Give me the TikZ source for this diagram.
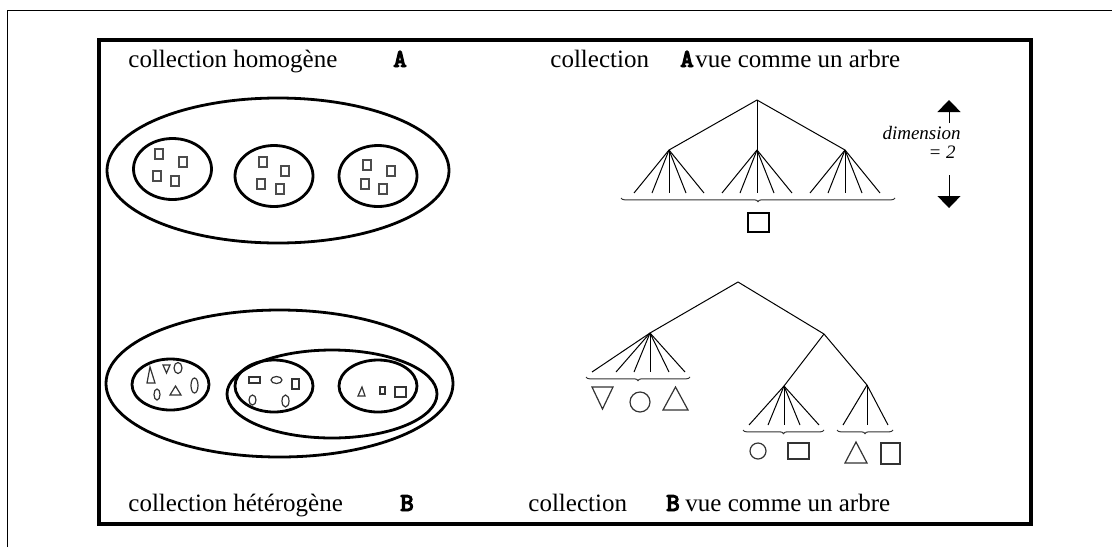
\documentclass[tikz,border=0pt]{standalone}
\usepackage{fontspec}
\setmainfont{Liberation Serif}
\newfontfamily\tagfont[FakeBold=3.5]{lmmonolt10-bold.otf}
\usetikzlibrary{shapes.geometric, arrows.meta, decorations.pathreplacing}

\begin{document}
\begin{tikzpicture}[x=0.5pt, y=-0.5pt]
		\tikzstyle{Bag} = [line width=1.4pt, draw=black]
		\tikzstyle{Elem} = [line width=0.55pt, draw=black!70]
		\tikzstyle{Shape} = [line width=0.6pt, draw=black!80]
		\tikzstyle{Edge} = [line width=0.5pt, draw=black]
		\tikzstyle{Brace} = [line width=0.5pt, draw=black!80, decorate, decoration={brace, mirror, amplitude=1.8pt}]
		\tikzstyle{Label} = [anchor=base west, inner sep=0pt, font=\fontsize{12.5}{14}\selectfont]
		\tikzstyle{Tag} = [anchor=base, inner sep=0pt, font=\tagfont\fontsize{13}{14}\selectfont]
		\tikzstyle{Dim} = [anchor=base east, inner sep=0pt, font=\itshape\fontsize{9.5}{10}\selectfont]
		\tikzstyle{arrow} = [line width=0.5pt, -{Triangle[width=11.5pt, length=6pt]}]
		
		%\draw[step=50,gray,very thin] (0,0) grid (1112,547);
		\useasboundingbox (0,0) rectangle (1112,547);
		
		\draw [line width=0.5pt, black] (7,547) -- (7,10) -- (1112,10);
		\draw [line width=2pt, black] (98.7,40) rectangle (1030.5,523.7);
		
		\node (homLabel) [Label] at (128,67) {collection homogène};
		\node (tagA) [Tag] at (400,67) {A};
		\node (treeLabelA) [Label] at (550,67) {collection};
		\node (treeTagA) [Tag] at (687,67) {A};
		\node (vueA) [Label] at (695,67) {vue comme un arbre};
		\node (hetLabel) [Label] at (128,511) {collection hétérogène};
		\node (tagB) [Tag] at (407,511) {B};
		\node (treeLabelB) [Label] at (528,511) {collection};
		\node (treeTagB) [Tag] at (673,511) {B};
		\node (vueB) [Label] at (685,511) {vue comme un arbre};
		
		% homogeneous bags
		\coordinate (bagA) at (278,170.5);
		\coordinate (bagA1) at (172.5,169);
		\coordinate (bagA2) at (274,176);
		\coordinate (bagA3) at (378,176);
		\draw [Bag] (bagA) ellipse [x radius=171, y radius=72.5];
		\foreach \k in {1,2,3}
			\draw [Bag] (bagA\k) ellipse [x radius=39, y radius=30.5];
		\foreach \dx/\dy in {-13.5/-15, 10.5/-7, -15.5/7, 2.5/12}
			\draw [Elem] (bagA1) ++(\dx-4,\dy-5) rectangle ++(8,10);
		\foreach \dx/\dy in {-11/-14, 11/-5, -13/8, 6/13}
			\draw [Elem] (bagA2) ++(\dx-4,\dy-5) rectangle ++(8,10);
		\foreach \dx/\dy in {-11/-11, 13/-5, -13/8, 5/13}
			\draw [Elem] (bagA3) ++(\dx-4,\dy-5) rectangle ++(8,10);
		
		% heterogeneous bags
		\coordinate (bagB) at (279.5,383.5);
		\coordinate (bagB1) at (170.5,384.5);
		\coordinate (bagB23) at (332,394);
		\coordinate (bagB2) at (274,386);
		\coordinate (bagB3) at (378,386);
		\draw [Bag] (bagB) ellipse [x radius=173.5, y radius=73.5];
		\draw [Bag] (bagB1) ellipse [x radius=38.5, y radius=25.5];
		\draw [Bag] (bagB23) ellipse [x radius=105, y radius=44];
		\draw [Bag] (bagB2) ellipse [x radius=39, y radius=26];
		\draw [Bag] (bagB3) ellipse [x radius=39, y radius=26];
		\draw [Shape] (147,383) -- (155,383) -- (150,367) -- cycle;
		\draw [Shape] (163,365) -- (170,365) -- (166.5,373) -- cycle;
		\draw [Shape] (178,368) ellipse [x radius=4, y radius=5.5];
		\draw [Shape] (157,394.5) ellipse [x radius=3, y radius=5.5];
		\draw [Shape] (170,395) -- (181,395) -- (175.5,386) -- cycle;
		\draw [Shape] (194.5,385.5) ellipse [x radius=3.5, y radius=7.5];
		\draw [Shape] (249,377) rectangle (260,383);
		\draw [Shape] (276.5,380) ellipse [x radius=5.5, y radius=3.5];
		\draw [Shape] (292,379) rectangle (299,389);
		\draw [Shape] (252.5,400) ellipse [x radius=3.5, y radius=5];
		\draw [Shape] (285.5,401) ellipse [x radius=3.5, y radius=6];
		\draw [Shape] (358,396) -- (365,396) -- (362,387) -- cycle;
		\draw [Shape] (380,387) rectangle (385,394);
		\draw [Shape] (395,387) rectangle (406,397);
		
		% tree of A
		\coordinate (rootA) at (757,100);
		\coordinate (kidA1) at (669,150);
		\coordinate (kidA2) at (757,150);
		\coordinate (kidA3) at (845,150);
		\foreach \k in {1,2,3} {
			\draw [Edge] (rootA) -- (kidA\k);
			\foreach \dx [count=\i] in {-35,-17,0,17,35} {
				\path (kidA\k) ++(\dx,43) coordinate (leafA\k-\i);
				\draw [Edge] (kidA\k) -- (leafA\k-\i);
			}
		}
		\coordinate (braceAl) at (621,198);
		\coordinate (braceAr) at (895,198);
		\draw [Brace] (braceAl) -- (braceAr);
		\node (eltA) [draw, line width=0.6pt, minimum width=10.5pt, minimum height=9.5pt, inner sep=0pt] at (758.5,222.5) {};
		
		% dimension
		\coordinate (dimUp) at (949,100);
		\coordinate (dimUpFoot) at (949,123);
		\coordinate (dimDown) at (949,208);
		\coordinate (dimDownFoot) at (949,175);
		\draw [arrow] (dimUpFoot) -- (dimUp);
		\draw [arrow] (dimDownFoot) -- (dimDown);
		\node (dimText) [Dim] at (961,139) {dimension};
		\node (dimVal) [Dim] at (956,158) {= 2};
		
		% tree of B
		\coordinate (rootB) at (738,282);
		\coordinate (kidB1) at (650,333);
		\coordinate (kidB2) at (824,334);
		\coordinate (kidB21) at (784,386);
		\coordinate (kidB22) at (867,385);
		\draw [Edge] (rootB) -- (kidB1);
		\draw [Edge] (rootB) -- (kidB2);
		\draw [Edge] (kidB2) -- (kidB21);
		\draw [Edge] (kidB2) -- (kidB22);
		\foreach \dx [count=\i] in {-58,-34,-16,0,19,35} {
			\path (kidB1) ++(\dx,39) coordinate (leafB1-\i);
			\draw [Edge] (kidB1) -- (leafB1-\i);
		}
		\foreach \dx [count=\i] in {-35,-16,0,16,35} {
			\path (kidB21) ++(\dx,39) coordinate (leafB21-\i);
			\draw [Edge] (kidB21) -- (leafB21-\i);
		}
		\foreach \dx [count=\i] in {-24,0,21} {
			\path (kidB22) ++(\dx,40) coordinate (leafB22-\i);
			\draw [Edge] (kidB22) -- (leafB22-\i);
		}
		\coordinate (braceB1l) at (586,377);
		\coordinate (braceB1r) at (690,377);
		\coordinate (braceB21l) at (743,430);
		\coordinate (braceB21r) at (824,430);
		\coordinate (braceB22l) at (837,430);
		\coordinate (braceB22r) at (893,430);
		\draw [Brace] (braceB1l) -- (braceB1r);
		\draw [Brace] (braceB21l) -- (braceB21r);
		\draw [Brace] (braceB22l) -- (braceB22r);
		\draw [Shape] (592,387) -- (613,387) -- (602.5,409) -- cycle;
		\draw [Shape] (640,402) circle [radius=10];
		\draw [Shape] (663,410) -- (688,410) -- (675.5,387) -- cycle;
		\draw [Shape] (758,451) circle [radius=8];
		\draw [Shape] (788,443) rectangle (809,459);
		\draw [Shape] (845,463) -- (867,463) -- (856,442) -- cycle;
		\draw [Shape] (881,443) rectangle (900,464);
\end{tikzpicture}
\end{document}
